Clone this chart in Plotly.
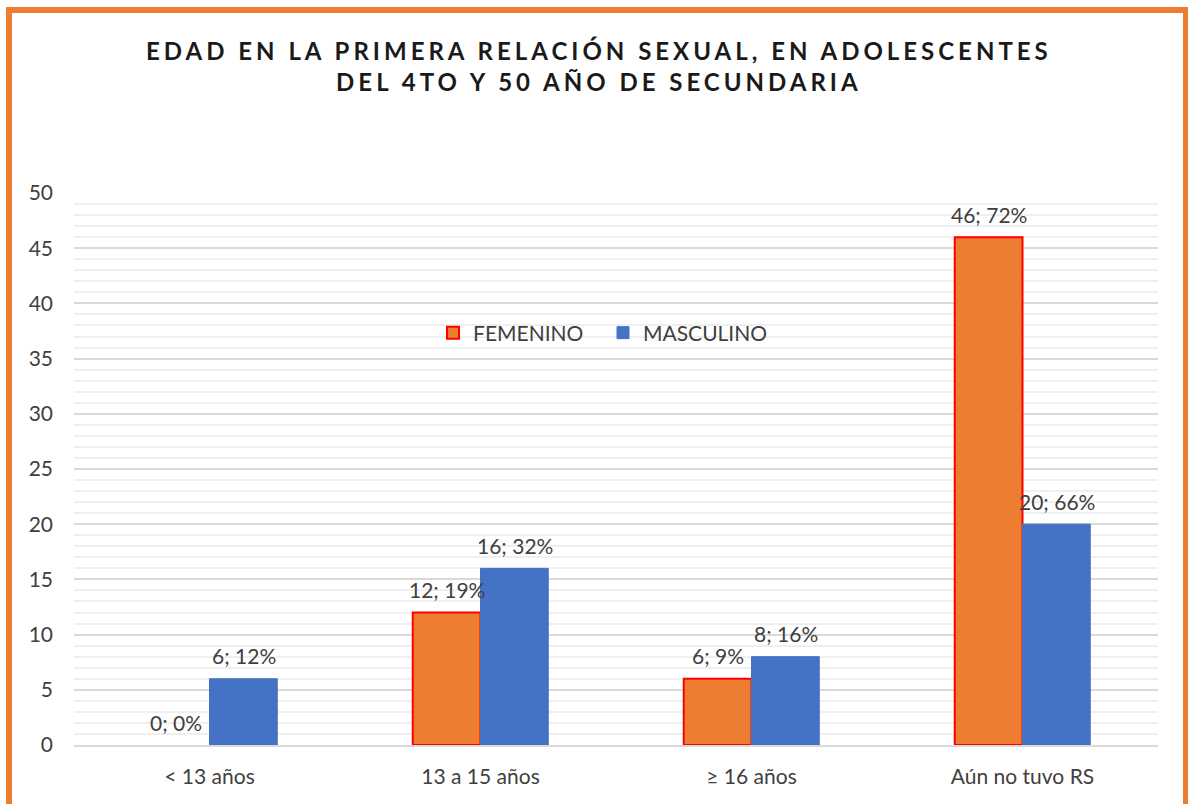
import plotly.graph_objects as go

categories = ["< 13 años", "13 a 15 años", "≥ 16 años", "Aún no tuvo RS"]
femenino = [0, 12, 6, 46]
femenino_pct = ["0%", "19%", "9%", "72%"]
masculino = [6, 16, 8, 20]
masculino_pct = ["12%", "32%", "16%", "66%"]
title_lines = ["EDAD EN LA PRIMERA RELACIÓN SEXUAL, EN ADOLESCENTES",
               "DEL 4TO Y 50 AÑO DE SECUNDARIA"]

FONT = "Lato"
ORANGE = "#ED7D31"
BLUE = "#4472C4"
TXT = "#404040"
FS = 21

fig = go.Figure()
# real bars (no outline on zero-height bar)
fig.add_trace(go.Bar(
    name="FEMENINO", x=categories, y=femenino, offsetgroup="f", showlegend=False,
    marker=dict(color=ORANGE,
                line=dict(color="#FF0000", width=[0 if v == 0 else 2 for v in femenino])),
))
# legend entry for FEMENINO with its red outline
fig.add_trace(go.Bar(
    name="FEMENINO", x=[categories[0]], y=[None], offsetgroup="f", showlegend=True,
    marker=dict(color=ORANGE, line=dict(color="#FF0000", width=2)),
))
fig.add_trace(go.Bar(
    name="MASCULINO", x=categories, y=masculino, offsetgroup="m",
    marker=dict(color=BLUE, line=dict(color=BLUE, width=1)),
))

annotations = []
for cat, v, p in zip(categories, femenino, femenino_pct):
    annotations.append(dict(x=cat, y=v, xref="x", yref="y", text=f"{v}; {p}",
                            showarrow=False, xshift=-34, yshift=23, yanchor="middle",
                            font=dict(family=FONT, size=FS, color=TXT)))
for cat, v, p in zip(categories, masculino, masculino_pct):
    annotations.append(dict(x=cat, y=v, xref="x", yref="y", text=f"{v}; {p}",
                            showarrow=False, xshift=34, yshift=23, yanchor="middle",
                            font=dict(family=FONT, size=FS, color=TXT)))

title_text = "<br>".join(f'<span style="letter-spacing:4px">{t}</span>' for t in title_lines)
annotations.append(dict(
    x=0.5, y=1.0, xref="paper", yref="paper", yanchor="bottom", yshift=95,
    xshift=-17,
    text=f"<b>{title_text}</b>", showarrow=False,
    font=dict(family=FONT, size=24, color="#1a1a1a"),
))

L, R, T, B = 74, 30, 193, 59
W, H = 1188, 804
pw, ph = W - L - R, H - T - B

def px_x(x):
    return (x - L) / pw

def px_y(y):
    return (H - B - y) / ph

fig.update_layout(
    width=W, height=H,
    margin=dict(l=L, r=R, t=T, b=B),
    paper_bgcolor="white", plot_bgcolor="white",
    barmode="group", bargap=0.5, bargroupgap=0,
    font=dict(family=FONT, size=FS, color=TXT),
    showlegend=True,
    legend=dict(orientation="h", x=px_x(603), y=px_y(333), xanchor="center", yanchor="middle",
                font=dict(family=FONT, size=FS, color=TXT), bgcolor="rgba(0,0,0,0)",
                traceorder="normal", entrywidth=125, entrywidthmode="pixels"),
    annotations=annotations,
    shapes=[dict(type="rect", xref="paper", yref="paper",
                 x0=px_x(9), x1=px_x(1186), y0=px_y(840), y1=px_y(10),
                 line=dict(color=ORANGE, width=6), fillcolor="rgba(0,0,0,0)", layer="above")],
)
fig.update_yaxes(range=[0, 50], dtick=5, showgrid=True, gridcolor="#D9D9D9", gridwidth=1.5,
                 zeroline=False, showline=False, ticks="", ticklabelstandoff=20,
                 tickfont=dict(family=FONT, size=FS, color=TXT),
                 minor=dict(dtick=1, showgrid=True, gridcolor="#EFEFEF", gridwidth=2))
fig.update_xaxes(showline=True, linecolor="#D9D9D9", linewidth=1.5, ticks="",
                 ticklabelstandoff=12, tickfont=dict(family=FONT, size=FS, color=TXT))

fig.write_html("out.html", config={"displayModeBar": False},
               post_script="document.body.style.margin='0';document.body.style.overflow='hidden';")
